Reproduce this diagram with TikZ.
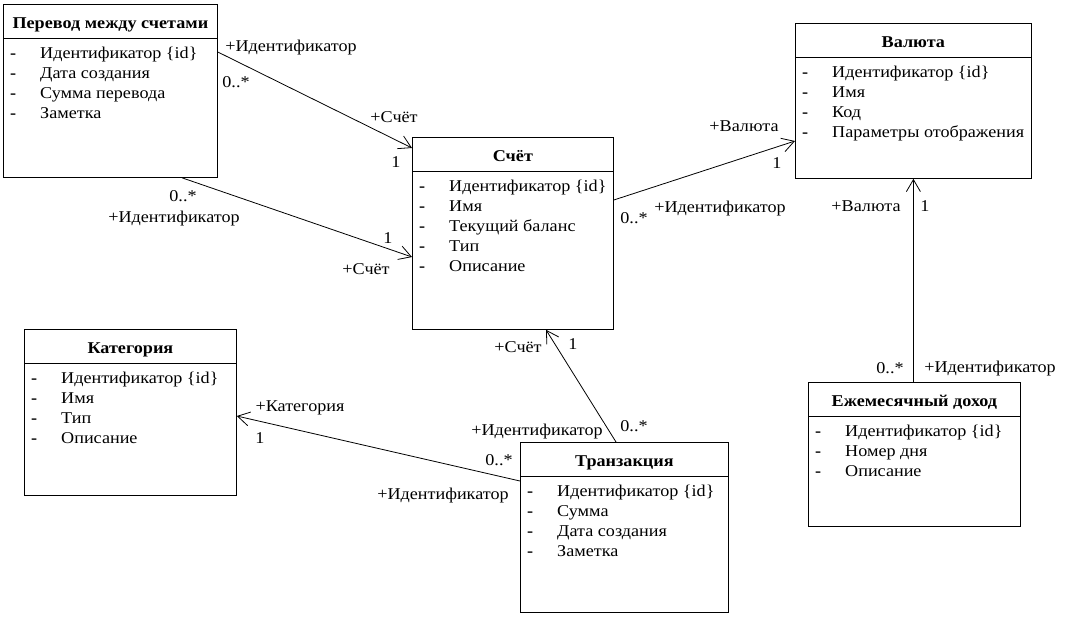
\documentclass[tikz,border=0pt]{standalone}
\usepackage{fontspec}
\setmainfont{Liberation Serif}[FakeStretch=1.1]
\usetikzlibrary{arrows.meta,calc}
\newcommand\umlclass[6]{%
  \node[cls,minimum width=#4pt,minimum height=#5pt] (#1) at (#2,#3) {};
  \draw[line width=0.8pt] ($(#1.north west)+(0,34)$) -- ($(#1.north east)+(0,34)$);
  \node[ttl] (#1-t) at ($(#1.north)+(0,24.5)$) {#6};
}
\newcommand\umlitems[4]{%
  \foreach \t [count=\i] in {#4} {%
    \node[dsh] (#1-d\i) at (#2+7, #3+54.5+20*\i-20) {-};
    \node[itm] (#1-i\i) at (#2+37, #3+54.5+20*\i-20) {\t};
  }
}
\begin{document}
\begin{tikzpicture}[x=1pt,y=-1pt,
  cls/.style={draw,line width=0.8pt,anchor=north west,inner sep=0},
  ttl/.style={font=\fontsize{16.5}{20}\selectfont\bfseries,anchor=base,inner sep=0},
  itm/.style={font=\fontsize{16.5}{20}\selectfont,anchor=base west,inner sep=0},
  dsh/.style={font=\fontsize{16.5}{20}\selectfont\bfseries,anchor=base west,inner sep=0},
  lbl/.style={font=\fontsize{16.5}{20}\selectfont,anchor=base,inner sep=0},
  assoc/.style={line width=0.8pt,-{Straight Barb[length=12pt,width=14pt]}},
]
\useasboundingbox (0,0) rectangle (1065,625);

\umlclass{perevod}{3}{4}{214}{173}{Перевод между счетами}
\umlitems{perevod}{3}{4}{{Идентификатор \{id\}},Дата создания,Сумма перевода,Заметка}

\umlclass{schet}{412}{137}{201}{192}{Счёт}
\umlitems{schet}{412}{137}{{Идентификатор \{id\}},Имя,Текущий баланс,Тип,Описание}

\umlclass{valuta}{795}{23}{236}{155}{Валюта}
\umlitems{valuta}{795}{23}{{Идентификатор \{id\}},Имя,Код,Параметры отображения}

\umlclass{kat}{24}{329}{212}{166}{Категория}
\umlitems{kat}{24}{329}{{Идентификатор \{id\}},Имя,Тип,Описание}

\umlclass{trans}{520}{442}{208}{170}{Транзакция}
\umlitems{trans}{520}{442}{{Идентификатор \{id\}},Сумма,Дата создания,Заметка}

\umlclass{income}{808}{382}{212}{144}{Ежемесячный доход}
\umlitems{income}{808}{382}{{Идентификатор \{id\}},Номер дня,Описание}

% connectors
\draw[assoc] ($(perevod.north east)+(0,48)$) -- ($(schet.north west)+(0,11)$);
\draw[assoc] ($(perevod.south west)+(179,0)$) -- ($(schet.north west)+(0,120)$);
\draw[assoc] ($(schet.north east)+(0,63)$) -- ($(valuta.north west)+(0,118)$);
\draw[assoc] (income.north -| valuta.south) -- (valuta.south);
\draw[assoc] ($(trans.north west)+(96,0)$) -- ($(schet.south west)+(134,0)$);
\draw[assoc] ($(trans.north west)+(0,39)$) -- ($(kat.north east)+(0,87)$);

% labels
\node[lbl] (l1a) at (291,51.5) {+Идентификатор};
\node[lbl] (l1b) at (236,87.5) {0..*};
\node[lbl] (l1c) at (394,122.5) {+Счёт};
\node[lbl] (l1d) at (396,167.5) {1};

\node[lbl] (l2a) at (183,201.5) {0..*};
\node[lbl] (l2b) at (174,222.5) {+Идентификатор};
\node[lbl] (l2c) at (388,243.5) {1};
\node[lbl] (l2d) at (366,274.5) {+Счёт};

\node[lbl] (l3a) at (744,131.5) {+Валюта};
\node[lbl] (l3b) at (777,168.5) {1};
\node[lbl] (l3c) at (634,223.5) {0..*};
\node[lbl] (l3d) at (720,212.5) {+Идентификатор};

\node[lbl] (l4a) at (866,211.5) {+Валюта};
\node[lbl] (l4b) at (925,211.5) {1};
\node[lbl] (l4c) at (890,373.5) {0..*};
\node[lbl] (l4d) at (990,372.5) {+Идентификатор};

\node[lbl] (l5a) at (518,352.5) {+Счёт};
\node[lbl] (l5b) at (573,349.5) {1};
\node[lbl,fill=white,inner sep=1pt] (l5c) at (537,435.5) {+Идентификатор};
\node[lbl] (l5d) at (634,431.5) {0..*};

\node[lbl] (l6a) at (300,411.5) {+Категория};
\node[lbl] (l6b) at (260,443.5) {1};
\node[lbl] (l6c) at (499,465.5) {0..*};
\node[lbl] (l6d) at (443,499.5) {+Идентификатор};
\end{tikzpicture}
\end{document}
